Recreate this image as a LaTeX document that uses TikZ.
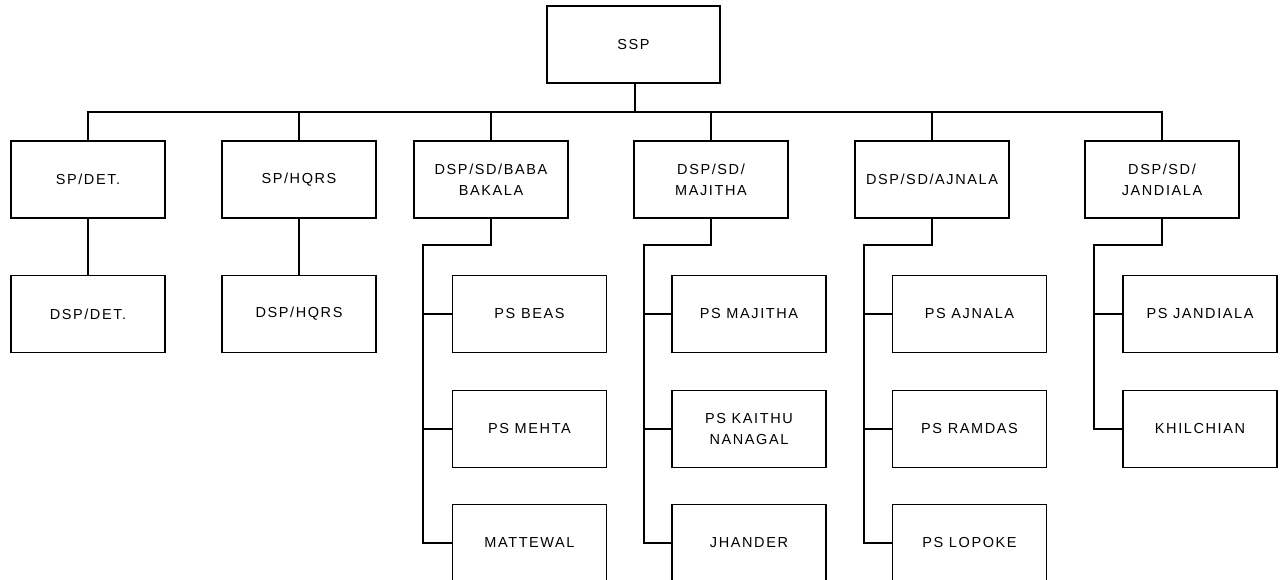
\documentclass[tikz,border=0pt]{standalone}
\usepackage{fontspec}
\setmainfont{Liberation Sans}[LetterSpace=11]
\begin{document}
\begin{tikzpicture}[x=1pt,y=-1pt,
  box/.style={draw=black,line width=1.2pt,rectangle,inner sep=0pt,
    minimum width=154pt,minimum height=77pt,align=center,
    font=\fontsize{14.5}{21}\selectfont},
  link/.style={draw=black,line width=1.2pt}]
\useasboundingbox (0,0) rectangle (1287,580);
\clip (0,0) rectangle (1287,580);
\fill[white] (0,0) rectangle (1287,580);
% top
\node[box,minimum width=173pt] (ssp) at (633.5,44.5) {SSP};
% level 1
\node[box] (spdet) at (88,179.5) {SP/DET.};
\node[box] (sphqrs) at (299,179.5) {SP/HQRS};
\node[box] (baba) at (491,179.5) {DSP/SD/BABA\\BAKALA};
\node[box] (maj) at (711,179.5) {DSP/SD/\\MAJITHA};
\node[box] (ajn) at (932,179.5) {DSP/SD/AJNALA};
\node[box] (jan) at (1162,179.5) {DSP/SD/\\JANDIALA};
% level 2
\node[box] (dspdet) at (88,314) {DSP/DET.};
\node[box] (dsphqrs) at (299,314) {DSP/HQRS};
\node[box] (beas) at (529.5,314) {PS BEAS};
\node[box] (mehta) at (529.5,429) {PS MEHTA};
\node[box] (mattewal) at (529.5,543) {MATTEWAL};
\node[box] (psmaj) at (749,314) {PS MAJITHA};
\node[box] (kaithu) at (749,429) {PS KAITHU\\NANAGAL};
\node[box] (jhander) at (749,543) {JHANDER};
\node[box] (psajn) at (969.5,314) {PS AJNALA};
\node[box] (ramdas) at (969.5,429) {PS RAMDAS};
\node[box] (lopoke) at (969.5,543) {PS LOPOKE};
\node[box] (psjan) at (1200,314) {PS JANDIALA};
\node[box] (khil) at (1200,429) {KHILCHIAN};
% bus
\coordinate (bus) at (0,112);
\draw[link] ([xshift=1.5pt]ssp.south) -- ([xshift=1.5pt]ssp.south |- bus);
\draw[link] (spdet.north) |- (bus -| jan.north) -- (jan.north);
\foreach \n in {sphqrs,baba,maj,ajn}
  \draw[link] (\n.north) -- (\n.north |- bus);
\draw[link] (spdet.south) -- (dspdet.north);
\draw[link] (sphqrs.south) -- (dsphqrs.north);
% spines
\coordinate (sb) at (423,245);
\coordinate (sm) at (644,245);
\coordinate (sa) at (864,245);
\coordinate (sj) at (1094,245);
\draw[link] (baba.south) |- (sb) |- (mattewal.west);
\draw[link] (beas.west) -- (beas.west -| sb);
\draw[link] (mehta.west) -- (mehta.west -| sb);
\draw[link] (maj.south) |- (sm) |- (jhander.west);
\draw[link] (psmaj.west) -- (psmaj.west -| sm);
\draw[link] (kaithu.west) -- (kaithu.west -| sm);
\draw[link] (ajn.south) |- (sa) |- (lopoke.west);
\draw[link] (psajn.west) -- (psajn.west -| sa);
\draw[link] (ramdas.west) -- (ramdas.west -| sa);
\draw[link] (jan.south) |- (sj) |- (khil.west);
\draw[link] (psjan.west) -- (psjan.west -| sj);
\end{tikzpicture}
\end{document}
